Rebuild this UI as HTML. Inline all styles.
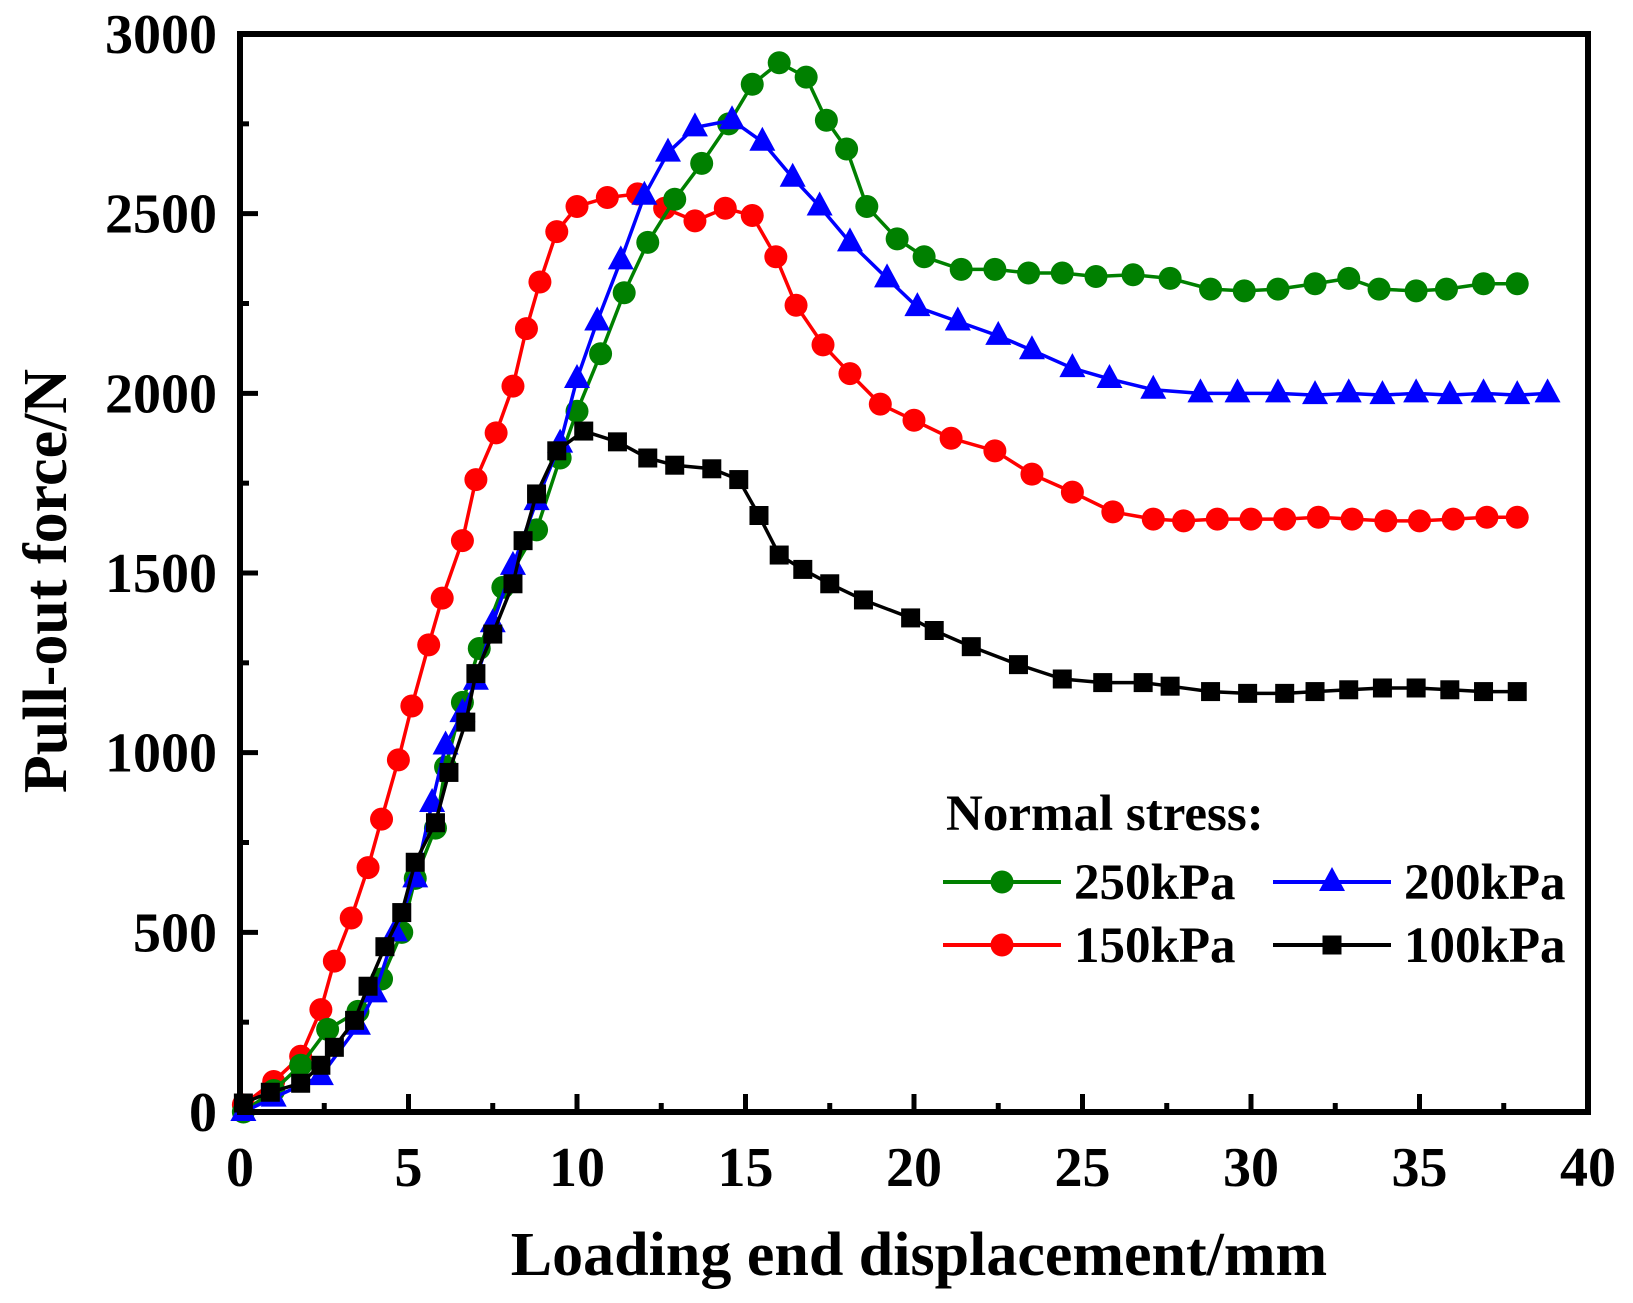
<!DOCTYPE html>
<html><head><meta charset="utf-8"><style>
html,body{margin:0;padding:0;background:#fff}
svg{display:block}
text{font-family:"Liberation Serif",serif;font-weight:bold;fill:#000}
</style></head><body>
<svg id="chart" width="1633" height="1303" viewBox="0 0 1633 1303" xmlns="http://www.w3.org/2000/svg">
<g id="marks"></g>
<g id="axes"></g>
<g id="legend">
<text x="946" y="830" font-size="51">Normal stress:</text>
</g>
</svg>
<script>
const xTicks=[0,5,10,15,20,25,30,35,40];
const yTicks=[0,500,1000,1500,2000,2500,3000];
const seriesNames=["250kPa","200kPa","150kPa","100kPa"];
const x250=[0.1,1.0,1.8,2.6,3.5,4.2,4.8,5.2,5.8,6.1,6.6,7.1,7.8,8.8,9.5,10.0,10.7,11.4,12.1,12.9,13.7,14.5,15.2,16.0,16.8,17.4,18.0,18.6,19.5,20.3,21.4,22.4,23.4,24.4,25.4,26.5,27.6,28.8,29.8,30.8,31.9,32.9,33.8,34.9,35.8,36.9,37.9];
const y250=[0,60,130,230,280,370,500,650,790,960,1140,1290,1460,1620,1820,1950,2110,2280,2420,2540,2640,2750,2860,2920,2880,2760,2680,2520,2430,2380,2345,2345,2335,2335,2325,2330,2320,2290,2285,2290,2305,2320,2290,2285,2290,2305,2305];
const x200=[0.1,1.0,2.4,3.5,4.0,4.6,5.2,5.7,6.1,6.6,7.0,7.5,8.1,8.8,9.5,10.0,10.6,11.3,12.0,12.7,13.5,14.6,15.5,16.4,17.2,18.1,19.2,20.1,21.3,22.5,23.5,24.7,25.8,27.1,28.5,29.6,30.8,31.9,32.9,33.9,34.9,35.9,36.9,37.9,38.8];
const y200=[0,40,100,240,330,500,650,860,1020,1110,1200,1360,1520,1700,1860,2040,2200,2370,2550,2670,2740,2760,2700,2600,2520,2420,2320,2240,2200,2160,2120,2070,2040,2010,2000,2000,2000,1995,2000,1995,2000,1995,2000,1995,2000];
const x150=[0.1,1.0,1.8,2.4,2.8,3.3,3.8,4.2,4.7,5.1,5.6,6.0,6.6,7.0,7.6,8.1,8.5,8.9,9.4,10.0,10.9,11.8,12.6,13.5,14.4,15.2,15.9,16.5,17.3,18.1,19.0,20.0,21.1,22.4,23.5,24.7,25.9,27.1,28.0,29.0,30.0,31.0,32.0,33.0,34.0,35.0,36.0,37.0,37.9];
const y150=[20,85,155,285,420,540,680,815,980,1130,1300,1430,1590,1760,1890,2020,2180,2310,2450,2520,2545,2555,2515,2480,2515,2495,2380,2245,2135,2055,1970,1925,1875,1840,1775,1725,1670,1650,1645,1650,1650,1650,1655,1650,1645,1645,1650,1655,1655];
const x100=[0.1,0.9,1.8,2.4,2.8,3.4,3.8,4.3,4.8,5.2,5.8,6.2,6.7,7.0,7.5,8.1,8.4,8.8,9.4,10.2,11.2,12.1,12.9,14.0,14.8,15.4,16.0,16.7,17.5,18.5,19.9,20.6,21.7,23.1,24.4,25.6,26.8,27.6,28.8,29.9,31.0,31.9,32.9,33.9,34.9,35.9,36.9,37.9];
const y100=[25,55,80,130,180,255,350,460,555,695,805,945,1085,1220,1330,1470,1590,1720,1840,1895,1865,1820,1800,1790,1760,1660,1550,1510,1470,1425,1375,1340,1295,1245,1205,1195,1195,1185,1170,1165,1165,1170,1175,1180,1180,1175,1170,1170];

const L=240,R=1588,T=34,B=1112;
const sx=v=>L+(v-0)/(40-0)*(R-L);
const sy=v=>B-(v-0)/(3000-0)*(B-T);
const NS="http://www.w3.org/2000/svg";
function mk(tag,attrs,parent){const e=document.createElementNS(NS,tag);for(const k in attrs)e.setAttribute(k,attrs[k]);parent.appendChild(e);return e;}
const marks=document.getElementById('marks'),axes=document.getElementById('axes'),legend=document.getElementById('legend');

function marker(type,cx,cy,color,parent){
  let e;
  if(type==='circle') e=mk('circle',{cx:cx,cy:cy,r:11.5,fill:color},parent);
  else if(type==='tri') e=mk('polygon',{points:`${cx},${cy-15} ${cx-13},${cy+9} ${cx+13},${cy+9}`,fill:color},parent);
  else e=mk('rect',{x:cx-9.5,y:cy-9.5,width:19,height:19,fill:color},parent);
  return e;
}
const defs=[[x250,y250,'#008000','circle'],[x200,y200,'#0000ff','tri'],[x150,y150,'#ff0000','circle'],[x100,y100,'#000000','square']];
const order=[2,0,1,3];
order.forEach(i=>{
  const [xs,ys,c,t]=defs[i];
  const g=mk('g',{},marks);
  
  
  const ln=mk('polyline',{points:xs.map((x,j)=>sx(x)+','+sy(ys[j])).join(' '),fill:'none',stroke:c,'stroke-width':3.5,'stroke-linejoin':'round'},g);
  
  
  xs.forEach((x,j)=>{
    const m=marker(t,sx(x),sy(ys[j]),c,g);
    
    
  });
});

const fr=mk('rect',{x:L,y:T,width:R-L,height:B-T,fill:'none',stroke:'#000','stroke-width':6},axes);


xTicks.forEach((v,i)=>{
  const x=sx(v);
  mk('line',{x1:x,y1:B,x2:x,y2:B-18,stroke:'#000','stroke-width':5},axes);
  if(i<xTicks.length-1){const xm=sx(v+2.5);mk('line',{x1:xm,y1:B,x2:xm,y2:B-9,stroke:'#000','stroke-width':5},axes);}
  const t=mk('text',{x:x,y:1186,'font-size':56,'text-anchor':'middle'},axes);
  t.textContent=v;
  
  
});
yTicks.forEach((v,i)=>{
  const y=sy(v);
  mk('line',{x1:L,y1:y,x2:L+18,y2:y,stroke:'#000','stroke-width':5},axes);
  if(i<yTicks.length-1){const ym=sy(v+250);mk('line',{x1:L,y1:ym,x2:L+9,y2:ym,stroke:'#000','stroke-width':5},axes);}
  const t=mk('text',{x:217,y:y+19,'font-size':56,'text-anchor':'end'},axes);
  t.textContent=v;
  
  
});
const xt=mk('text',{x:919,y:1275,'font-size':62,'text-anchor':'middle'},axes);
xt.textContent='Loading end displacement/mm';


const yt=mk('text',{x:0,y:0,'font-size':62,'text-anchor':'middle',transform:'translate(66,581) rotate(-90)'},axes);
yt.textContent='Pull-out force/N';



const lg=[[0,943,882,899],[1,1273,882,899],[2,943,945,962],[3,1273,945,962]];
lg.forEach(([i,x0,y,by])=>{
  const [xs,ys,c,t]=defs[i];
  const g=mk('g',{},legend);
  
  
  mk('line',{x1:x0,y1:y,x2:x0+118,y2:y,stroke:c,'stroke-width':4},g);
  marker(t,x0+59,y,c,g);
  const tx=mk('text',{x:x0+131,y:by,'font-size':51},g);
  tx.textContent=seriesNames[i];
});
</script>
</body></html>
